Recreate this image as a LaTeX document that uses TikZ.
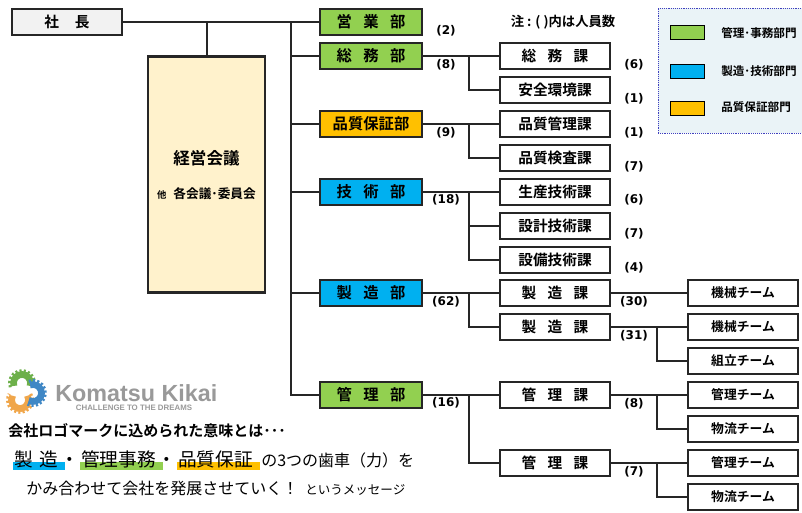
\documentclass[tikz,border=0pt]{standalone}
\usepackage{fontspec}
\usepackage{xcolor}
\newfontfamily\jp{Noto Sans CJK JP}
\newfontfamily\jpb{Noto Sans CJK JP Bold}
\newfontfamily\num{DejaVu Sans Bold}
\newfontfamily\logofont{Liberation Sans Bold}
\definecolor{kanricol}{HTML}{92D050}
\definecolor{gijutsucol}{HTML}{00B0F0}
\definecolor{hinshitsucol}{HTML}{FFC000}
\definecolor{keieicol}{HTML}{FFF2CC}
\definecolor{shachocol}{HTML}{F2F2F2}
\definecolor{legendcol}{HTML}{EAF3F7}
\definecolor{gearO}{HTML}{F0A64A}
\definecolor{gearG}{HTML}{6DB04A}
\definecolor{gearB}{HTML}{3F87C5}
\newcommand{\gp}{\hspace{8.5pt}}
\begin{document}
\begin{tikzpicture}[x=0.75pt,y=-0.75pt,
  box/.style={draw=black!85,line width=1.6pt,minimum height=19pt,inner sep=0pt,font=\jpb\fontsize{11}{13}\selectfont},
  bu/.style={box,minimum width=76pt,font=\jpb\fontsize{11.5}{13}\selectfont},
  ka/.style={box,minimum width=82pt,fill=white},
  team/.style={box,minimum width=82pt,fill=white,font=\jpb\fontsize{9.6}{12}\selectfont},
  cnt/.style={font=\num\fontsize{9}{11}\selectfont,inner sep=0pt},
  conn/.style={draw=black!85,line width=1.5pt},
  swatch/.style={draw=black,line width=0.8pt,minimum width=26pt,minimum height=10pt,inner sep=0pt},
  legtext/.style={font=\jpb\fontsize{8.7}{10}\selectfont,anchor=west,inner sep=0pt},
  msg/.style={font=\jp\fontsize{14}{16}\selectfont,anchor=base west,inner sep=0pt},
  msgm/.style={font=\jp\fontsize{12}{14}\selectfont,anchor=base west,inner sep=0pt},
  msgs/.style={font=\jp\fontsize{9.4}{12}\selectfont,anchor=base west,inner sep=0pt}]
\useasboundingbox (0,0) rectangle (802,512);

% legend
\node [draw=blue!50!gray,densely dotted,fill=legendcol,minimum width=108pt,minimum height=94pt,inner sep=0pt] (legend) at (730,70.5) {};
\node [swatch,fill=kanricol] (legA) at (687.5,32.5) {};
\node [swatch,fill=gijutsucol] (legB) at (687.5,71.5) {};
\node [swatch,fill=hinshitsucol] (legC) at (687.5,108.5) {};
\node [legtext] (legAt) at (721,33) {管理･事務部門};
\node [legtext] (legBt) at (721,71) {製造･技術部門};
\node [legtext] (legCt) at (721,107) {品質保証部門};
\node [font=\jpb\fontsize{10}{12}\selectfont,inner sep=0pt] (note) at (563,22) {注 : ( )内は人員数};

% president and meeting
\node [box,fill=shachocol,minimum width=82pt] (shacho) at (67,22) {社\hspace{12pt}長};
\node [draw=black!85,line width=1.6pt,fill=keieicol,minimum width=88pt,minimum height=177pt,inner sep=0pt] (keiei) at (206.5,174.5) {};
\node [font=\jpb\fontsize{12.4}{14}\selectfont,inner sep=0pt] (keieit) at (206.5,158) {経営会議};
\node [font=\jpb\fontsize{9.5}{11}\selectfont,inner sep=0pt] (iin) at (206.5,194) {{\fontsize{7}{9}\selectfont 他}\hspace{3pt} 各会議･委員会};

% departments
\node [bu,fill=kanricol] (eigyo) at (371,22) {営\gp 業\gp 部};
\node [bu,fill=kanricol] (somu) at (371,56) {総\gp 務\gp 部};
\node [bu,fill=hinshitsucol] (hosho) at (371,124) {品質保証部};
\node [bu,fill=gijutsucol] (gijutsu) at (371,192) {技\gp 術\gp 部};
\node [bu,fill=gijutsucol] (seizo) at (371,293) {製\gp 造\gp 部};
\node [bu,fill=kanricol] (kanri) at (371,395) {管\gp 理\gp 部};

% sections
\node [ka] (somuka) at (555,56) {総\gp 務\gp 課};
\node [ka] (anzen) at (555,90) {安全環境課};
\node [ka] (hinkan) at (555,124) {品質管理課};
\node [ka] (kensa) at (555,158) {品質検査課};
\node [ka] (seigi) at (555,192) {生産技術課};
\node [ka] (sekkei) at (555,226) {設計技術課};
\node [ka] (setsubi) at (555,260) {設備技術課};
\node [ka] (seizoA) at (555,293) {製\gp 造\gp 課};
\node [ka] (seizoB) at (555,327) {製\gp 造\gp 課};
\node [ka] (kanriA) at (555,395) {管\gp 理\gp 課};
\node [ka] (kanriB) at (555,463) {管\gp 理\gp 課};

% teams
\node [team] (kikaiA) at (743,293) {機械チーム};
\node [team] (kikaiB) at (743,327) {機械チーム};
\node [team] (kumi) at (743,361) {組立チーム};
\node [team] (kanA) at (743,395) {管理チーム};
\node [team] (butA) at (743,429) {物流チーム};
\node [team] (kanB) at (743,463) {管理チーム};
\node [team] (butB) at (743,497) {物流チーム};

% junctions
\coordinate (trunk) at (291,22);
\coordinate (jSomu) at (469,56);
\coordinate (jHosho) at (469,124);
\coordinate (jGijutsu) at (469,192);
\coordinate (jSeizo) at (469,293);
\coordinate (jKanri) at (469,395);
\coordinate (jSeizoB) at (657,327);
\coordinate (jKanriA) at (657,395);
\coordinate (jKanriB) at (657,463);

% connectors
\draw [conn] (shacho) -- (eigyo);
\draw [conn] (keiei) -- (keiei |- shacho);
\draw [conn] (trunk) |- (kanri);
\draw [conn] (trunk |- somu) -- (somu);
\draw [conn] (trunk |- hosho) -- (hosho);
\draw [conn] (trunk |- gijutsu) -- (gijutsu);
\draw [conn] (trunk |- seizo) -- (seizo);
\draw [conn] (somu) -- (somuka);
\draw [conn] (jSomu) |- (anzen);
\draw [conn] (hosho) -- (hinkan);
\draw [conn] (jHosho) |- (kensa);
\draw [conn] (gijutsu) -- (seigi);
\draw [conn] (jGijutsu) |- (sekkei);
\draw [conn] (jGijutsu) |- (setsubi);
\draw [conn] (seizo) -- (seizoA);
\draw [conn] (jSeizo) |- (seizoB);
\draw [conn] (kanri) -- (kanriA);
\draw [conn] (jKanri) |- (kanriB);
\draw [conn] (seizoA) -- (kikaiA);
\draw [conn] (seizoB) -- (kikaiB);
\draw [conn] (jSeizoB) |- (kumi);
\draw [conn] (kanriA) -- (kanA);
\draw [conn] (jKanriA) |- (butA);
\draw [conn] (kanriB) -- (kanB);
\draw [conn] (jKanriB) |- (butB);

% head counts
\node [cnt] (cEigyo) at (446,31) {(2)};
\node [cnt] (cSomu) at (446,65) {(8)};
\node [cnt] (cHosho) at (446,133) {(9)};
\node [cnt] (cGijutsu) at (446,200) {(18)};
\node [cnt] (cSeizo) at (446,302) {(62)};
\node [cnt] (cKanri) at (446,403) {(16)};
\node [cnt] (c1) at (634,65) {(6)};
\node [cnt] (c2) at (634,99) {(1)};
\node [cnt] (c3) at (634,133) {(1)};
\node [cnt] (c4) at (634,167) {(7)};
\node [cnt] (c5) at (634,200) {(6)};
\node [cnt] (c6) at (634,234) {(7)};
\node [cnt] (c7) at (634,268) {(4)};
\node [cnt] (c8) at (634,302) {(30)};
\node [cnt] (c9) at (634,336) {(31)};
\node [cnt] (c10) at (634,404) {(8)};
\node [cnt] (c11) at (634,472) {(7)};

% logo
\foreach \cx/\cy/\col/\sa/\ea in {20/400/gearO/-30/210, 22/383/gearG/-200/20, 33/393/gearB/-110/120}{
  \draw [line width=5pt,\col] ([shift=(\sa:8.5)]\cx,\cy) arc (\sa:\ea:8.5);
  \draw [line width=2.2pt,\col,dash pattern=on 1.6pt off 1.6pt] ([shift=(\sa:12.5)]\cx,\cy) arc (\sa:\ea:12.5);
}
\node [font=\logofont\fontsize{17.5}{19}\selectfont,text=gray!80,inner sep=0pt,anchor=west] (logotext) at (55,393) {Komatsu Kikai};
\node [font=\logofont\fontsize{5.9}{7}\selectfont,text=gray!80,inner sep=0pt] (logosub) at (134,408) {CHALLENGE TO THE DREAMS};

% message
\node [font=\jpb\fontsize{11.25}{13}\selectfont,inner sep=0pt,anchor=west] (msgA) at (8,431) {会社ロゴマークに込められた意味とは･･･};
\fill [gijutsucol] (13,462) rectangle (65,470);
\fill [kanricol] (80,462) rectangle (163,470);
\fill [hinshitsucol] (177,462) rectangle (260,470);
\node [msg] (msgB) at (14,466) {製\hspace{5pt}造};
\node [msg,anchor=base] (dotA) at (70,466) {・};
\node [msg] (msgC) at (81,466) {管理事務};
\node [msg,anchor=base] (dotB) at (167,466) {・};
\node [msg] (msgD) at (178,466) {品質保証};
\node [msgm] (msgE) at (261,466) {の3つの歯車（力）を};
\node [msgm] (msgF) at (26,494) {かみ合わせて会社を発展させていく！};
\node [msgs] (msgG) at (305,494) {というメッセージ};
\end{tikzpicture}
\end{document}
